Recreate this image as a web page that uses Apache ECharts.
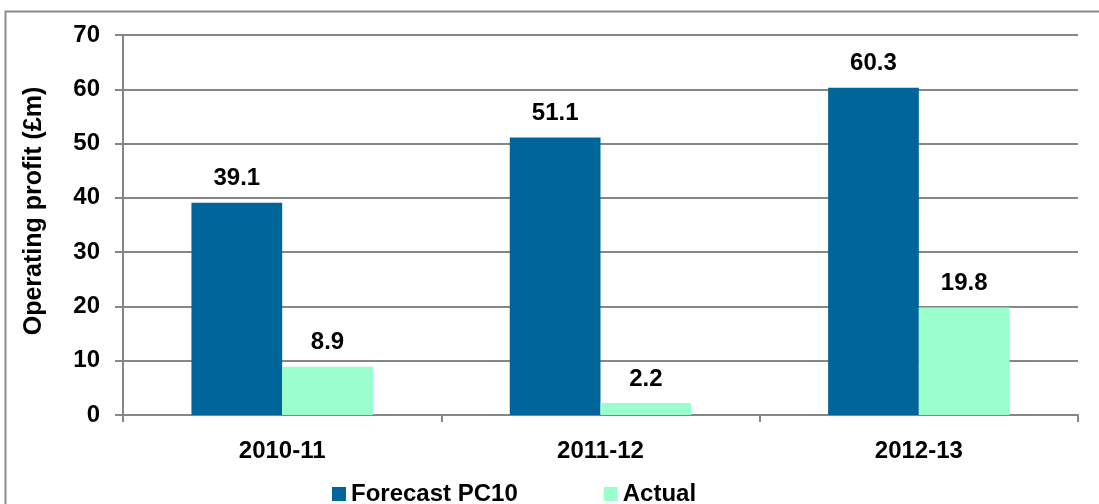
<!DOCTYPE html>
<html>
<head>
<meta charset="utf-8">
<script src="https://cdn.jsdelivr.net/npm/echarts@6/dist/echarts.min.js"></script>
<style>
  html, body { margin: 0; padding: 0; background: #fff; }
  #chart { width: 1099px; height: 504px; }
</style>
</head>
<body>
<div id="chart"></div>
<script>
// Chart data
const categories = ['2010-11', '2011-12', '2012-13'];
const forecastValues = [39.1, 51.1, 60.3];
const actualValues = [8.9, 2.2, 19.8];
const yTicks = [0, 10, 20, 30, 40, 50, 60, 70];

const chart = echarts.init(document.getElementById('chart'));
const font = '"Liberation Sans", Arial, sans-serif';

const labelStyle = {
    show: true,
    position: 'top',
    distance: 12,
    fontFamily: font,
    fontWeight: 'bold',
    fontSize: 24,
    color: '#000'
};

const option = {
    animation: false,
    graphic: [
        {
            type: 'rect',
            shape: { x: 5.5, y: 11.5, width: 1200, height: 600 },
            style: { fill: 'none', stroke: '#8c8c8c', lineWidth: 2 },
            silent: true
        }
    ],
    grid: {
        left: 123,
        right: 21,
        top: 35,
        bottom: 89
    },
    legend: {
        top: 477,
        left: 327,
        itemWidth: 14,
        itemHeight: 14,
        itemGap: 86,
        icon: 'rect',
        textStyle: {
            fontFamily: font,
            fontWeight: 'bold',
            fontSize: 24,
            color: '#000'
        },
        data: ['Forecast PC10', 'Actual']
    },
    xAxis: {
        type: 'category',
        data: categories,
        axisLine: { lineStyle: { color: '#868686', width: 2 } },
        axisTick: { show: true, length: 7, lineStyle: { color: '#868686', width: 2 } },
        axisLabel: {
            margin: 24,
            fontFamily: font,
            fontWeight: 'bold',
            fontSize: 24,
            color: '#000'
        }
    },
    yAxis: {
        type: 'value',
        min: yTicks[0],
        max: yTicks[yTicks.length - 1],
        interval: 10,
        name: 'Operating profit (£m)',
        nameLocation: 'middle',
        nameGap: 76,
        nameTextStyle: {
            fontFamily: font,
            fontWeight: 'bold',
            fontSize: 25,
            color: '#000',
            padding: [0, 0, 0, 28]
        },
        axisLine: { show: true, lineStyle: { color: '#868686', width: 2 } },
        axisTick: { show: true, length: 8, lineStyle: { color: '#868686', width: 2 } },
        splitLine: { lineStyle: { color: '#868686', width: 2 } },
        axisLabel: {
            margin: 23,
            fontFamily: font,
            fontWeight: 'bold',
            fontSize: 24,
            color: '#000'
        }
    },
    series: [
        {
            name: 'Forecast PC10',
            type: 'bar',
            data: forecastValues,
            barGap: '0%',
            barCategoryGap: '43%',
            itemStyle: { color: '#006699' },
            label: labelStyle
        },
        {
            name: 'Actual',
            type: 'bar',
            data: actualValues,
            barGap: '0%',
            barCategoryGap: '43%',
            itemStyle: { color: '#99ffcc' },
            label: labelStyle
        }
    ]
};

chart.setOption(option);
</script>
</body>
</html>
